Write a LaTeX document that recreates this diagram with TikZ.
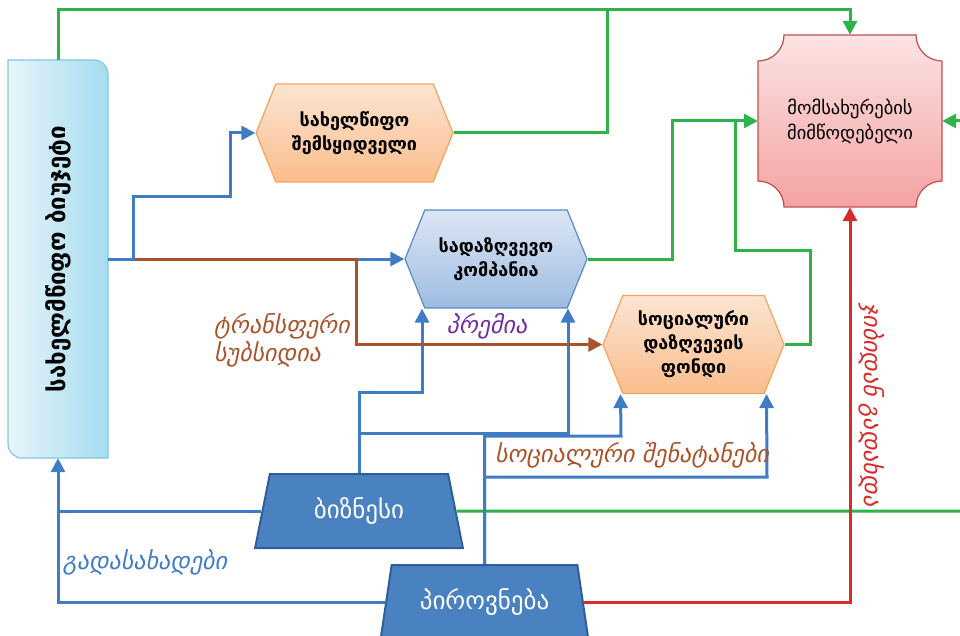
\documentclass[tikz,border=0pt]{standalone}
\usepackage{fontspec}
\setmainfont{DejaVu Sans}
\usetikzlibrary{shapes.geometric,shapes.symbols,arrows.meta}
\definecolor{linkblue}{HTML}{3F7CC6}
\definecolor{linkgreen}{HTML}{2DB34A}
\definecolor{linkbrown}{HTML}{A9532A}
\definecolor{linkred}{HTML}{D92B2B}
\definecolor{premiumpurple}{HTML}{7030A0}
\definecolor{orangetop}{HTML}{FDE5D2}
\definecolor{orangebot}{HTML}{F9BD8C}
\definecolor{orangeedge}{HTML}{F3A45C}
\definecolor{bluetop}{HTML}{DCE6F4}
\definecolor{bluebot}{HTML}{9DBCE2}
\definecolor{blueedge}{HTML}{5A8AC6}
\definecolor{redtop}{HTML}{FCE3E3}
\definecolor{redbot}{HTML}{F4A3A3}
\definecolor{rededge}{HTML}{C0504D}
\definecolor{skyleft}{HTML}{E8F5FB}
\definecolor{skyright}{HTML}{A5DCEF}
\definecolor{skyedge}{HTML}{7FC9E4}
\definecolor{trapfill}{HTML}{4A81C0}
\definecolor{trapedge}{HTML}{2F5F96}

\begin{document}
\begin{tikzpicture}[
        x=1pt, y=1pt,
        hexbox/.style={signal, signal to=west and east, signal pointer angle=136, draw=orangeedge, line width=1.2pt, top color=orangetop, bottom color=orangebot, minimum height=98pt, inner sep=0pt, align=center, font=\fontsize{18}{24}\selectfont\bfseries},
        trapbox/.style={trapezium, trapezium left angle=76.5, trapezium right angle=76.5, trapezium stretches=true, draw=trapedge, line width=2pt, fill=trapfill, minimum width=208pt, minimum height=74pt, text=white, font=\fontsize{25}{28}\selectfont},
        link/.style={line width=3pt},
        arrow/.style={link, -{Triangle[length=14pt,width=14pt]}},
        tag/.style={inner sep=0pt, align=left, font=\fontsize{24}{28}\selectfont\itshape},
        ]
        \useasboundingbox (0,0) rectangle (960,-636);

        % Budget (left column)
        \path[draw=skyedge, line width=1.2pt, left color=skyleft, right color=skyright]
            (8,-60) -- (94,-60) arc[start angle=90, end angle=0, radius=14] -- (108,-458)
            -- (22,-458) arc[start angle=270, end angle=180, radius=14] -- cycle;
        \node[minimum width=100pt, minimum height=398pt, inner sep=0pt, font=\fontsize{24}{28}\selectfont\bfseries] (budget) at (58,-259) {\rotatebox{90}{სახელმწიფო ბიუჯეტი}};

        % Provider (concave corners)
        \path[draw=rededge, line width=1.2pt, top color=redtop, bottom color=redbot]
            (758,-61) arc[start angle=-90, end angle=0, radius=26] -- (916,-35)
            arc[start angle=180, end angle=270, radius=26] -- (942,-181)
            arc[start angle=90, end angle=180, radius=26] -- (784,-207)
            arc[start angle=0, end angle=90, radius=26] -- cycle;
        \node[minimum width=184pt, minimum height=172pt, align=center, font=\fontsize{18.5}{25}\selectfont] (provider) at (850,-121) {მომსახურების\\მიმწოდებელი};

        % Middle boxes
        \node[hexbox, minimum width=197pt] (buyer) at (354.5,-133) {სახელწიფო\\შემსყიდველი};
        \node[hexbox, minimum width=182pt, draw=blueedge, top color=bluetop, bottom color=bluebot] (insurer) at (496,-259) {სადაზღვევო\\კომპანია};
        \node[hexbox, minimum width=181pt] (fund) at (693.5,-344.5) {სოციალური\\დაზღვევის\\ფონდი};

        % Payers
        \node[trapbox] (business) at (359,-511) {ბიზნესი};
        \node[trapbox] (person) at (484.5,-602) {პიროვნება};

        \coordinate (split) at (135,-259);
        \coordinate (rightin) at (960,-121);
        \coordinate (rightout) at (960,-511);

        % Green flows
        \draw[arrow, linkgreen] (budget.north) -- ++(0,50) -| (provider.north);
        \draw[link, linkgreen] (buyer.east) -| (607,-10);
        \draw[arrow, linkgreen] (insurer.east) -| (672,-121) -- (provider.west);
        \draw[link, linkgreen] (fund.east) -| (810,-250) -| (735,-121);
        \draw[arrow, linkgreen] (rightin) -- (provider.east);
        \draw[link, linkgreen] (business.east) -- (rightout);

        % Blue flows
        \draw[arrow, linkblue] (budget.east) -| (133,-197) -| (230,-133) -- (buyer.west);
        \draw[arrow, linkblue] (budget.east) -- (insurer.west);
        \draw[arrow, linkblue] (business.west) -| (budget.south);
        \draw[link, linkblue] (person.west) -| (58,-511);
        \draw[arrow, linkblue] (business.north) |- (422,-392) -- ([xshift=-74pt]insurer.south);
        \draw[arrow, linkblue] (business.north) |- (568,-433) -- ([xshift=72pt]insurer.south);
        \draw[arrow, linkblue] (person.north) |- (621,-436) -- ([xshift=-73pt]fund.south);
        \draw[arrow, linkblue] (person.north) |- (767,-477) -- ([xshift=73pt]fund.south);

        % Brown and red flows
        \draw[arrow, linkbrown] (split) -| (356,-344.5) -- (fund.west);
        \draw[arrow, linkred] (person.east) -| (provider.south);

        % Labels
        \node[tag, text=linkbrown, anchor=west] (transfer) at (214,-340) {ტრანსფერი\\სუბსიდია};
        \node[tag, text=premiumpurple] (premium) at (487,-326) {პრემია};
        \node[tag, text=linkbrown] (contrib) at (632,-455) {სოციალური შენატანები};
        \node[tag, text=linkblue] (taxes) at (145,-562) {გადასახადები};
        \node[tag, text=linkred, rotate=-90] (pocket) at (872,-405) {ჯიბიდან გადახდა};
    \end{tikzpicture}
\end{document}
